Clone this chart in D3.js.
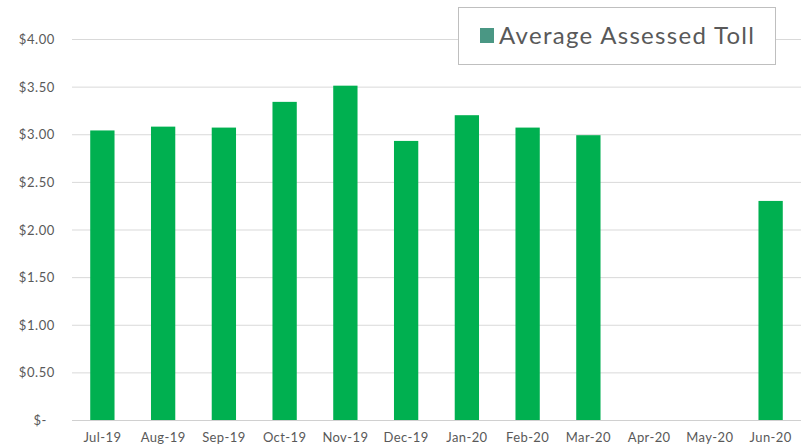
<!DOCTYPE html>
<html lang="en">
<head>
<meta charset="UTF-8">
<title>Average Assessed Toll</title>
<script src="https://cdn.jsdelivr.net/npm/d3@7"></script>
<style>
  body { margin: 0; background: #fff; }
  text { font-family: "Lato", "Noto Sans", sans-serif; fill: #595959; }
</style>
</head>
<body>
<div id="chart"></div>
<script>
var months = ['Jul-19','Aug-19','Sep-19','Oct-19','Nov-19','Dec-19','Jan-20','Feb-20','Mar-20','Apr-20','May-20','Jun-20'];
var tolls = [3.04, 3.08, 3.07, 3.34, 3.51, 2.93, 3.20, 3.07, 2.99, null, null, 2.30];
var yTicks = [0, 0.5, 1, 1.5, 2, 2.5, 3, 3.5, 4];
var seriesName = 'Average Assessed Toll';

var width = 808, height = 446;
var plotL = 72, plotR = 801, plotT = 39, plotB = 420;

var svg = d3.select('#chart').append('svg')
    .attr('width', width)
    .attr('height', height);

var x = d3.scaleBand().domain(months).range([plotL, plotR]).paddingInner(0.6).paddingOuter(0.3);
var y = d3.scaleLinear().domain([0, 4]).range([plotB, plotT]);

// gridlines
svg.append('g').selectAll('line')
    .data(yTicks)
    .enter().append('line')
    .attr('x1', plotL).attr('x2', plotR)
    .attr('y1', function(d){ return y(d) + 0.5 })
    .attr('y2', function(d){ return y(d) + 0.5 })
    .attr('stroke', function(d){ return d === 0 ? '#d0d0d0' : '#d9d9d9' })
    .attr('stroke-width', 1);

// y labels
var yAxis = d3.axisLeft(y).tickValues(yTicks).tickSize(0).tickPadding(0)
    .tickFormat(function(d){ return d === 0 ? '$-' : '$' + d3.format('.2f')(d) });
var yG = svg.append('g').attr('transform', 'translate(55,0)').call(yAxis);
yG.select('.domain').remove();
yG.selectAll('text')
    .style('font-size', '13px')
    .style('letter-spacing', '0.6px')
    .attr('dy', '0.35em')
    .attr('dx', function(d){ return d === 0 ? -8 : 0 });

// bars
svg.append('g').selectAll('rect')
    .data(months.map(function(m, i){ return {m: m, v: tolls[i]} }).filter(function(d){ return d.v != null }))
    .enter().append('rect')
    .attr('x', function(d){ return x(d.m) })
    .attr('width', x.bandwidth())
    .attr('y', function(d){ return y(d.v) })
    .attr('height', function(d){ return y(0) - y(d.v) })
    .attr('fill', '#00B050');

// x labels
var xAxis = d3.axisBottom(x).tickSize(0).tickPadding(0);
var xG = svg.append('g').attr('transform', 'translate(0,' + plotB + ')').call(xAxis);
xG.select('.domain').remove();
xG.selectAll('text')
    .style('font-size', '13px')
    .style('letter-spacing', '0.4px')
    .attr('y', 17)
    .attr('dy', '0.35em');

// legend
var lg = svg.append('g');
lg.append('rect')
    .attr('x', 458.5).attr('y', 7.5)
    .attr('width', 317).attr('height', 57)
    .attr('fill', '#fff').attr('stroke', '#bfbfbf');
lg.append('rect')
    .attr('x', 480).attr('y', 28)
    .attr('width', 14).attr('height', 15)
    .attr('fill', '#4A9784');
lg.append('text')
    .attr('x', 499).attr('y', 44)
    .attr('textLength', 255)
    .attr('lengthAdjust', 'spacing')
    .style('font-size', '24px')
    .text(seriesName);
</script>
</body>
</html>
